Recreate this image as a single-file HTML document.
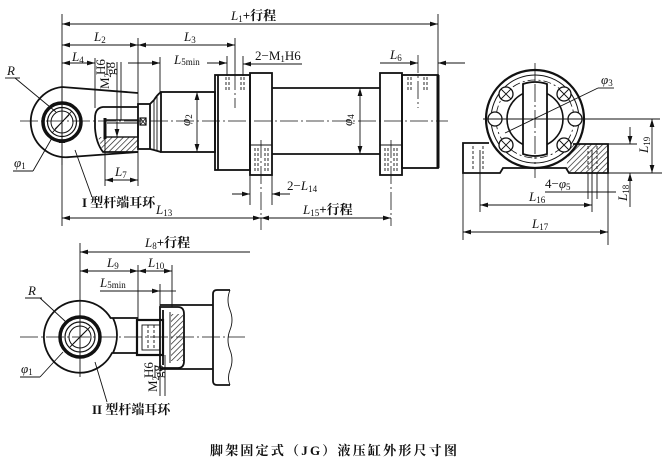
<!DOCTYPE html>
<html><head><meta charset="utf-8">
<style>
html,body{margin:0;padding:0;background:#fff;}
svg{display:block;}
.t{stroke:#111;stroke-width:0.9;fill:none}
.k{stroke:#111;stroke-width:1.8;fill:none}
.c{stroke:#111;stroke-width:0.8;fill:none;stroke-dasharray:18 3 2 3}
.d{stroke:#111;stroke-width:0.9;fill:none;stroke-dasharray:3 2}
text{font-family:"Liberation Serif","Noto Serif CJK SC",serif;fill:#111;font-size:13px}
.i{font-style:italic}
.s{font-size:9px;font-style:normal}
.cj{font-family:"Liberation Serif","Noto Serif CJK SC",serif;font-weight:bold}
</style></head><body>
<svg width="670" height="466" viewBox="0 0 670 466" xmlns="http://www.w3.org/2000/svg">
<defs>
<marker id="a" markerWidth="8" markerHeight="6" refX="8" refY="3" orient="auto-start-reverse" markerUnits="userSpaceOnUse"><path d="M0,0.6 L8,3 L0,5.4z" fill="#111"/></marker>
<pattern id="h" width="4" height="4" patternUnits="userSpaceOnUse" patternTransform="rotate(45)"><line x1="0" y1="0" x2="0" y2="4" stroke="#111" stroke-width="1.3"/></pattern>
</defs>

<!-- ===== TOP VIEW ===== -->
<!-- extension lines -->
<line class="t" x1="62" y1="14" x2="62" y2="226"/>
<line class="t" x1="438" y1="14" x2="438" y2="75"/>
<!-- L1 -->
<line class="t" x1="62" y1="24" x2="438" y2="24" marker-start="url(#a)" marker-end="url(#a)"/>
<text x="231" y="20"><tspan class="i">L</tspan><tspan class="s" dy="2">1</tspan><tspan dy="-2" class="cj">+行程</tspan></text>
<!-- L2 L3 -->
<line class="t" x1="62" y1="45" x2="138" y2="45" marker-start="url(#a)" marker-end="url(#a)"/>
<line class="t" x1="138" y1="45" x2="235" y2="45" marker-start="url(#a)" marker-end="url(#a)"/>
<line class="t" x1="138" y1="38" x2="138" y2="186"/>
<line class="t" x1="235" y1="38" x2="235" y2="72"/>
<text x="94" y="41"><tspan class="i">L</tspan><tspan class="s" dy="2">2</tspan></text>
<text x="184" y="41"><tspan class="i">L</tspan><tspan class="s" dy="2">3</tspan></text>
<!-- L4 -->
<line class="t" x1="62" y1="63" x2="95" y2="63" marker-start="url(#a)" marker-end="url(#a)"/>
<line class="t" x1="95" y1="58" x2="95" y2="108"/>
<text x="72" y="61"><tspan class="i">L</tspan><tspan class="s" dy="2">4</tspan></text>
<!-- M2 H6/g8 -->
<g transform="translate(109,89) rotate(-90)">
<text x="0" y="0" font-size="12">M<tspan class="s" dy="2">2</tspan></text>
<text x="14" y="-4" font-size="10">H6</text>
<line class="t" x1="14" y1="-2" x2="27" y2="-2"/>
<text x="14" y="6" font-size="10">g8</text>
</g>
<line class="t" x1="117" y1="62" x2="117" y2="137" marker-end="url(#a)"/>
<line class="t" x1="121" y1="62" x2="121" y2="120"/>
<!-- L5min -->
<line class="t" x1="128" y1="63" x2="160" y2="63" marker-end="url(#a)"/>
<line class="t" x1="160" y1="57" x2="160" y2="92"/>
<text x="174" y="64"><tspan class="i">L</tspan><tspan class="s" dy="1">5min</tspan></text>
<line class="t" x1="207" y1="63" x2="227" y2="63" marker-end="url(#a)"/>
<line class="t" x1="302" y1="64" x2="243" y2="64" marker-end="url(#a)"/>
<line class="t" x1="227" y1="56" x2="227" y2="76"/>
<line class="t" x1="243" y1="56" x2="243" y2="76"/>
<text x="255" y="60">2−M<tspan class="s" dy="2">1</tspan><tspan dy="-2">H6</tspan></text>
<!-- L6 -->
<line class="t" x1="380" y1="63" x2="418" y2="63" marker-end="url(#a)"/>
<line class="t" x1="465" y1="63" x2="438" y2="63" marker-end="url(#a)"/>
<text x="390" y="59"><tspan class="i">L</tspan><tspan class="s" dy="2">6</tspan></text>

<!-- centerline -->
<line class="c" x1="20" y1="121" x2="448" y2="121"/>

<!-- rod eye I -->
<path class="k" d="M138,93 L62,87 A35,35 0 1,0 70,157 L138,152"/>
<circle cx="62" cy="122" r="19" fill="none" stroke="#111" stroke-width="3.5"/>
<circle cx="62" cy="122" r="14.5" fill="none" stroke="#111" stroke-width="1.2"/>
<circle cx="62" cy="122" r="11" fill="none" stroke="#111" stroke-width="1"/>
<line class="t" x1="52" y1="133" x2="72" y2="111"/>
<line class="t" x1="55" y1="129" x2="69" y2="115"/>
<rect x="59" y="140" width="6" height="3" fill="#111"/>
<line class="t" x1="62" y1="80" x2="62" y2="165"/>
<!-- rod end body -->
<path class="k" d="M138,107 L103,107 Q95,108 95,118 L95,128 Q96,143 103,152 L138,152"/>
<polygon points="98,137 138,137 138,152 103,152" fill="url(#h)"/>
<rect x="105" y="120" width="33" height="17" fill="none" stroke="#111" stroke-width="1.4"/>
<line x1="105" y1="118" x2="105" y2="139" stroke="#111" stroke-width="3"/>
<line class="t" x1="107" y1="123" x2="138" y2="123"/>
<rect class="k" x="138" y="104" width="12" height="45"/>
<rect x="140" y="118" width="6" height="7" fill="none" stroke="#111" stroke-width="1.2"/>
<line class="t" x1="140" y1="118" x2="146" y2="125"/><line class="t" x1="146" y1="118" x2="140" y2="125"/>
<path class="k" d="M150,104 L154,100 Q157,95 161,92 M150,149 L154,150 L161,152"/>
<line class="t" x1="154" y1="100" x2="154" y2="150"/>
<line class="t" x1="157" y1="96" x2="157" y2="151"/>
<!-- rod / cylinder -->
<rect class="k" x="161" y="92" width="54" height="60"/>
<line class="t" x1="197" y1="92" x2="197" y2="152" marker-start="url(#a)" marker-end="url(#a)"/>
<text transform="translate(190,126) rotate(-90)" class="i">φ<tspan class="s" dy="2">2</tspan></text>
<rect class="k" x="215" y="75" width="35" height="95"/>
<line class="k" x1="218" y1="75" x2="218" y2="170"/>
<line class="d" x1="226" y1="77" x2="226" y2="92"/><line class="d" x1="229" y1="77" x2="229" y2="92"/>
<line class="d" x1="241" y1="77" x2="241" y2="92"/><line class="d" x1="244" y1="77" x2="244" y2="92"/>
<line class="c" x1="235" y1="72" x2="235" y2="108" stroke-dasharray="10 3 2 3"/>
<!-- foot 1 -->
<rect class="k" x="250" y="73" width="22" height="102"/>
<line class="t" x1="250" y1="145" x2="272" y2="145"/>
<line class="d" x1="255" y1="148" x2="255" y2="173"/><line class="d" x1="258" y1="148" x2="258" y2="173"/>
<line class="d" x1="265" y1="148" x2="265" y2="173"/><line class="d" x1="268" y1="148" x2="268" y2="173"/>
<line class="c" x1="261" y1="140" x2="261" y2="230" stroke-dasharray="14 3 2 3"/>
<!-- tube -->
<line class="k" x1="272" y1="88" x2="380" y2="88"/>
<line class="k" x1="272" y1="154" x2="380" y2="154"/>
<line class="t" x1="360" y1="88" x2="360" y2="154" marker-start="url(#a)" marker-end="url(#a)"/>
<text transform="translate(352,126) rotate(-90)" class="i">φ<tspan class="s" dy="2">4</tspan></text>
<!-- foot 2 -->
<rect class="k" x="380" y="73" width="22" height="102"/>
<line class="t" x1="380" y1="145" x2="402" y2="145"/>
<line class="d" x1="385" y1="148" x2="385" y2="173"/><line class="d" x1="388" y1="148" x2="388" y2="173"/>
<line class="d" x1="394" y1="148" x2="394" y2="173"/><line class="d" x1="397" y1="148" x2="397" y2="173"/>
<line class="c" x1="391" y1="140" x2="391" y2="226" stroke-dasharray="14 3 2 3"/>
<!-- rear cap -->
<rect class="k" x="402" y="75" width="36" height="93"/>
<line x1="438" y1="75" x2="438" y2="168" stroke="#111" stroke-width="3"/>
<line class="d" x1="408" y1="77" x2="408" y2="92"/><line class="d" x1="411" y1="77" x2="411" y2="92"/>
<line class="d" x1="424" y1="77" x2="424" y2="92"/><line class="d" x1="427" y1="77" x2="427" y2="92"/>
<line class="c" x1="418" y1="55" x2="418" y2="108" stroke-dasharray="14 3 2 3"/>

<!-- lower dims -->
<line class="t" x1="250" y1="175" x2="250" y2="205"/>
<line class="t" x1="272" y1="175" x2="272" y2="205"/>
<line class="t" x1="232" y1="194" x2="250" y2="194" marker-end="url(#a)"/>
<line class="t" x1="290" y1="194" x2="272" y2="194" marker-end="url(#a)"/>
<text x="287" y="190">2−<tspan class="i">L</tspan><tspan class="s" dy="2">14</tspan></text>
<line class="t" x1="62" y1="218" x2="261" y2="218" marker-start="url(#a)" marker-end="url(#a)"/>
<line class="t" x1="261" y1="218" x2="391" y2="218" marker-start="url(#a)" marker-end="url(#a)"/>
<text x="156" y="214"><tspan class="i">L</tspan><tspan class="s" dy="2">13</tspan></text>
<text x="303" y="214"><tspan class="i">L</tspan><tspan class="s" dy="2">15</tspan><tspan dy="-2" class="cj">+行程</tspan></text>
<!-- L7 -->
<line class="t" x1="105" y1="139" x2="105" y2="186"/>
<line class="t" x1="105" y1="180" x2="138" y2="180" marker-start="url(#a)" marker-end="url(#a)"/>
<text x="115" y="176"><tspan class="i">L</tspan><tspan class="s" dy="2">7</tspan></text>
<!-- labels -->
<text x="82" y="207" font-size="12" class="cj">I 型杆端耳环</text>
<line class="t" x1="75" y1="150" x2="92" y2="197"/>
<text x="7" y="75" class="i">R</text>
<line class="t" x1="5" y1="78" x2="20" y2="78"/>
<line class="t" x1="15" y1="78" x2="56" y2="112"/>
<text x="14" y="167" class="i">φ<tspan class="s" dy="2">1</tspan></text>
<line class="t" x1="13" y1="171" x2="33" y2="171"/>
<line class="t" x1="33" y1="171" x2="52" y2="138"/>

<!-- ===== END VIEW ===== -->
<line class="c" x1="535" y1="63" x2="535" y2="178" stroke-dasharray="14 3 2 3"/>
<line class="t" x1="483" y1="119" x2="660" y2="119"/>
<!-- base -->
<path class="k" d="M489,143 L463,143 L463,173 L500,173 L503,168 L566,168 L569,173 L608,173 L608,144 L573,144"/>
<polygon points="571,144 608,144 608,173 569,173 566,168" fill="url(#h)"/>
<line class="d" x1="473" y1="146" x2="473" y2="171"/>
<line class="d" x1="483" y1="146" x2="483" y2="171"/>
<line class="d" x1="588" y1="146" x2="588" y2="171"/>
<line class="d" x1="597" y1="146" x2="597" y2="171"/>
<!-- flange -->
<circle cx="535" cy="119" r="49" fill="none" stroke="#111" stroke-width="2.2"/>
<circle cx="535" cy="119" r="44" fill="none" stroke="#111" stroke-width="1"/>
<circle cx="535" cy="119" r="39" fill="none" stroke="#111" stroke-width="0.8" stroke-dasharray="8 3 2 3"/>
<circle cx="535" cy="119" r="28" fill="none" stroke="#111" stroke-width="1.6"/>
<g fill="#fff" stroke="#111" stroke-width="1.3">
<circle cx="506" cy="94" r="7"/><circle cx="564" cy="94" r="7"/>
<circle cx="495" cy="119" r="7"/><circle cx="575" cy="119" r="7"/>
<circle cx="506" cy="145" r="7"/><circle cx="564" cy="145" r="7"/>
</g>
<g class="t">
<path d="M501,89 L511,99 M511,89 L501,99 M559,89 L569,99 M569,89 L559,99 M501,140 L511,150 M511,140 L501,150 M559,140 L569,150 M569,140 L559,150 M488,119 L502,119 M568,119 L582,119"/>
</g>
<path d="M523,84 Q535,80 547,84 L547,154 Q535,158 523,154 Z" fill="#fff" stroke="#111" stroke-width="1.8"/>
<line class="c" x1="535" y1="84" x2="535" y2="156" stroke-dasharray="12 3 2 3"/>
<line class="t" x1="483" y1="119" x2="583" y2="119"/>
<!-- phi3 -->
<line class="t" x1="598" y1="88" x2="505" y2="133"/>
<line class="t" x1="598" y1="88" x2="614" y2="88"/>
<text x="601" y="84" class="i">φ<tspan class="s" dy="2">3</tspan></text>
<!-- L19 / L18 -->
<line class="t" x1="608" y1="173" x2="662" y2="173"/>
<line class="t" x1="608" y1="144" x2="637" y2="144"/>
<line class="t" x1="652" y1="119" x2="652" y2="173" marker-start="url(#a)" marker-end="url(#a)"/>
<text transform="translate(648,153) rotate(-90)"><tspan class="i">L</tspan><tspan class="s" dy="2">19</tspan></text>
<line class="t" x1="630" y1="127" x2="630" y2="144" marker-end="url(#a)"/>
<line class="t" x1="630" y1="207" x2="630" y2="173" marker-end="url(#a)"/>
<text transform="translate(627,201) rotate(-90)"><tspan class="i">L</tspan><tspan class="s" dy="2">18</tspan></text>
<!-- 4-phi5 -->
<text x="545" y="188">4−<tspan class="i">φ</tspan><tspan class="s" dy="2">5</tspan></text>
<line class="t" x1="545" y1="192" x2="616" y2="192"/>
<line class="t" x1="588" y1="173" x2="588" y2="199"/>
<line class="t" x1="597" y1="173" x2="597" y2="199"/>
<!-- L16 L17 -->
<line class="t" x1="480" y1="150" x2="480" y2="212"/>
<line class="t" x1="592" y1="150" x2="592" y2="212"/>
<line class="t" x1="463" y1="173" x2="463" y2="240"/>
<line class="t" x1="608" y1="173" x2="608" y2="245"/>
<line class="t" x1="480" y1="205" x2="592" y2="205" marker-start="url(#a)" marker-end="url(#a)"/>
<text x="529" y="201"><tspan class="i">L</tspan><tspan class="s" dy="2">16</tspan></text>
<line class="t" x1="463" y1="232" x2="608" y2="232" marker-start="url(#a)" marker-end="url(#a)"/>
<text x="532" y="228"><tspan class="i">L</tspan><tspan class="s" dy="2">17</tspan></text>

<!-- ===== BOTTOM VIEW ===== -->
<line class="t" x1="80" y1="243" x2="80" y2="377"/>
<line class="t" x1="80" y1="252" x2="250" y2="252" marker-start="url(#a)"/>
<text x="145" y="247"><tspan class="i">L</tspan><tspan class="s" dy="2">8</tspan><tspan dy="-2" class="cj">+行程</tspan></text>
<line class="t" x1="80" y1="271" x2="138" y2="271" marker-start="url(#a)" marker-end="url(#a)"/>
<line class="t" x1="138" y1="271" x2="172" y2="271" marker-start="url(#a)" marker-end="url(#a)"/>
<text x="107" y="267"><tspan class="i">L</tspan><tspan class="s" dy="2">9</tspan></text>
<text x="148" y="267"><tspan class="i">L</tspan><tspan class="s" dy="2">10</tspan></text>
<line class="t" x1="138" y1="265" x2="138" y2="320"/>
<line class="t" x1="172" y1="265" x2="172" y2="307"/>
<text x="100" y="287"><tspan class="i">L</tspan><tspan class="s" dy="1">5min</tspan></text>
<line class="t" x1="100" y1="291" x2="160" y2="291" marker-end="url(#a)"/>
<line class="t" x1="160" y1="291" x2="176" y2="291"/>
<line class="t" x1="160" y1="284" x2="160" y2="307"/>
<!-- centerline -->
<line class="c" x1="20" y1="337" x2="245" y2="337"/>
<!-- eye II -->
<path class="k" d="M138,318 L110.6,318 A36,36 0 1,0 112,353 L138,353"/>
<path class="k" d="M113,318 Q121,335 113,353" stroke-width="1.2"/>
<circle cx="80" cy="337" r="20" fill="none" stroke="#111" stroke-width="3.5"/>
<circle cx="80" cy="337" r="15" fill="none" stroke="#111" stroke-width="1.2"/>
<circle cx="80" cy="337" r="11" fill="none" stroke="#111" stroke-width="1"/>
<line class="t" x1="70" y1="347" x2="90" y2="327"/>
<line class="t" x1="73" y1="344" x2="87" y2="330"/>
<!-- thread part -->
<rect x="137" y="320" width="26" height="35" fill="none" stroke="#111" stroke-width="2.2"/>
<rect class="t" x="142" y="325" width="18" height="25"/>
<line class="d" x1="148" y1="325" x2="148" y2="350"/>
<line class="d" x1="154" y1="325" x2="154" y2="350"/>
<!-- cap -->
<line class="k" x1="160" y1="305" x2="213" y2="305"/>
<line class="k" x1="160" y1="369" x2="213" y2="369"/>
<path class="k" d="M160,307 L178,307 Q184,307 184,314 L184,361 Q184,368 178,368 L160,368 Z"/>
<rect x="171" y="314" width="12" height="47" fill="url(#h)"/>
<line class="t" x1="170" y1="312" x2="170" y2="363"/>
<line class="k" x1="163" y1="310" x2="163" y2="365"/>
<!-- flange -->
<path class="k" d="M230,290 L217,290 Q213,290 213,294 L213,381 Q213,385 217,385 L230,385"/>
<path class="t" d="M230,290 Q226,300 230,310 Q234,320 230,330 Q226,340 230,350 Q234,360 230,370 Q227,378 230,385"/>
<!-- M2 label -->
<g transform="translate(157,392) rotate(-90)">
<text x="0" y="0" font-size="12">M<tspan class="s" dy="2">2</tspan></text>
<text x="14" y="-4" font-size="10">H6</text>
<line class="t" x1="14" y1="-2" x2="27" y2="-2"/>
<text x="14" y="6" font-size="10">g8</text>
</g>
<line class="t" x1="160" y1="355" x2="160" y2="396"/>
<line class="t" x1="165" y1="355" x2="165" y2="396"/>
<!-- labels -->
<text x="92" y="414" font-size="12" class="cj">II 型杆端耳环</text>
<line class="t" x1="95" y1="362" x2="107" y2="402"/>
<text x="28" y="295" class="i">R</text>
<line class="t" x1="25" y1="298" x2="42" y2="298"/>
<line class="t" x1="40" y1="298" x2="66" y2="322"/>
<text x="21" y="373" class="i">φ<tspan class="s" dy="2">1</tspan></text>
<line class="t" x1="20" y1="377" x2="40" y2="377"/>
<line class="t" x1="40" y1="377" x2="63" y2="352"/>

<!-- caption -->
<text x="210" y="455" font-size="14" class="cj" textLength="247" lengthAdjust="spacing">脚架固定式（JG）液压缸外形尺寸图</text>
</svg>
</body></html>
